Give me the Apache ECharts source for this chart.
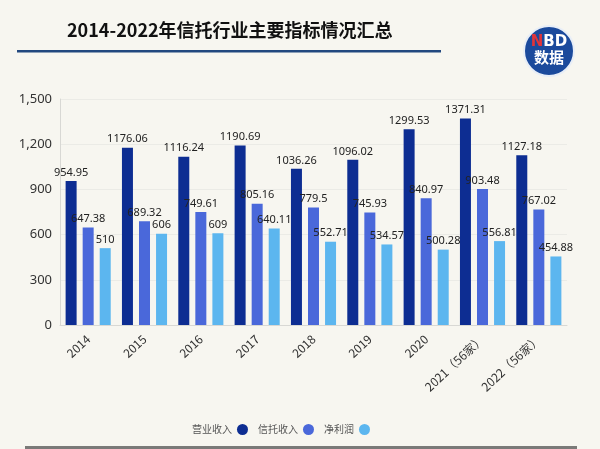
<!DOCTYPE html>
<html><head><meta charset="utf-8">
<script src="https://cdn.jsdelivr.net/npm/echarts@6/dist/echarts.min.js"></script>
<style>html,body{margin:0;padding:0;background:#f7f6f0;}#c{width:600px;height:449px;}</style>
</head><body><div id="c"></div>
<script>
const categories = ['2014','2015','2016','2017','2018','2019','2020','2021（56家）','2022（56家）'];
const seriesNames = ['营业收入','信托收入','净利润'];
const revenue = [954.95,1176.06,1116.24,1190.69,1036.26,1096.02,1299.53,1371.31,1127.18];
const trustIncome = [647.38,689.32,749.61,805.16,779.5,745.93,840.97,903.48,767.02];
const netProfit = [510,606,609,640.11,552.71,534.57,500.28,556.81,454.88];
const yTicks = [0,300,600,900,1200,1500];
const colors = ['#0d2d92','#4a68da','#5cb6ef'];

const chart = echarts.init(document.getElementById('c'));
const mk = (name, data, color) => ({
  name, type:'bar', data, barWidth:11, barGap:'55%',
  itemStyle:{color},
  label:{show:true, position:'top', distance:3, color:'#222', fontSize:11, fontFamily:'Noto Sans',
    formatter:p=>String(p.value)}
});
chart.setOption({
  backgroundColor:'#f7f6f0',
  animation:false,
  graphic:[
    {type:'text', left:67, top:21, style:{text:'2014-2022年信托行业主要指标情况汇总', fill:'#111', font:'bold 18px "Noto Sans CJK SC"'}},
    {type:'rect', shape:{x:17,y:50,width:424,height:2.5}, style:{fill:'#22487f'}},
    {type:'circle', shape:{cx:549,cy:51,r:25}, style:{fill:'#1b4a9c', stroke:'#e8eef7', lineWidth:2}},
    {type:'text', x:549, y:35, style:{text:'{r|N}{w|BD}', align:'center', rich:{r:{fill:'#e0343a',font:'bold 15px "DejaVu Sans"'},w:{fill:'#fff',font:'bold 15px "DejaVu Sans"'}}}},
    {type:'text', x:549, y:50, style:{text:'数据', align:'center', fill:'#fff', font:'bold 15px "Noto Sans CJK SC"'}},
    {type:'rect', shape:{x:25,y:446,width:552,height:3}, style:{fill:'#7a7a78'}}
  ],
  legend:{
    data:seriesNames, bottom:9, left:187, align:'right', icon:'circle', itemWidth:11, itemHeight:11, itemGap:10,
    textStyle:{color:'#555', fontSize:10, fontFamily:'Noto Sans CJK SC'}
  },
  grid:{left:60, right:33, top:99, bottom:124},
  xAxis:{
    type:'category', data:categories,
    axisLine:{lineStyle:{color:'#d8d8d4'}}, axisTick:{show:false},
    axisLabel:{rotate:43, color:'#333', fontSize:12, fontFamily:'Noto Sans CJK SC', margin:12, interval:0}
  },
  yAxis:{
    type:'value', min:0, max:1500, interval:300,
    axisLine:{show:true, lineStyle:{color:'#d8d8d4'}},
    axisLabel:{color:'#333', fontSize:13, fontFamily:'Noto Sans', margin:8,
      formatter:v=>yTicks.includes(v)?v.toLocaleString('en-US'):''},
    splitLine:{lineStyle:{color:'#ebebe6'}}
  },
  series:[mk(seriesNames[0],revenue,colors[0]), mk(seriesNames[1],trustIncome,colors[1]), mk(seriesNames[2],netProfit,colors[2])]
});
</script></body></html>
